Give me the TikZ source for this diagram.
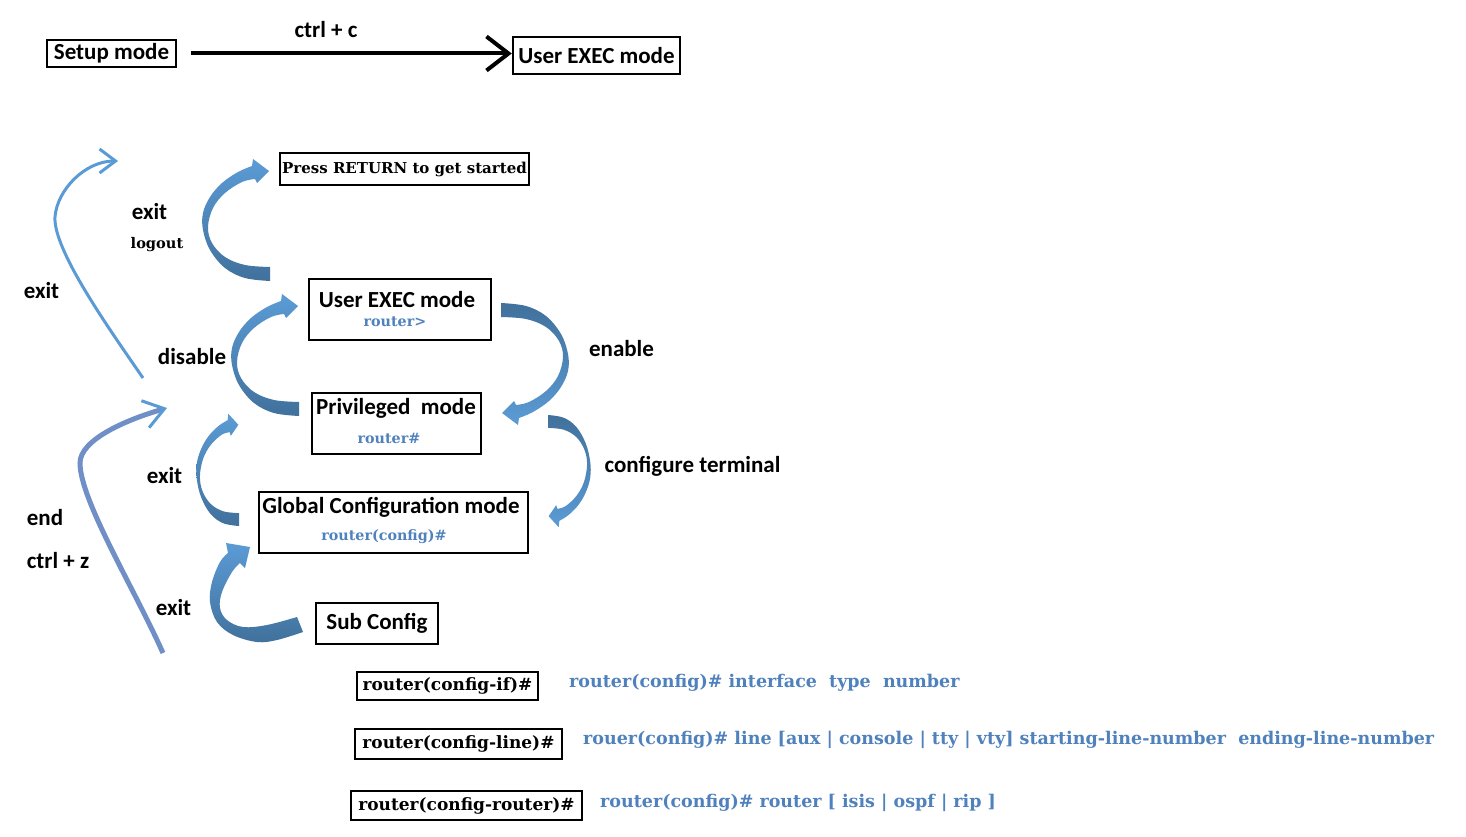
\documentclass[tikz,border=0pt]{standalone}
\usepackage{fontspec}
\setmainfont{Carlito}
\newfontfamily\srf{DejaVu Serif}
\usetikzlibrary{arrows.meta}
\definecolor{txtblue}{HTML}{4F81BD}
\definecolor{alight}{HTML}{5B9BD5}
\definecolor{adark}{HTML}{41719C}
\definecolor{lineA}{HTML}{5B9BD5}
\definecolor{lineB}{HTML}{6F8FC6}
\tikzset{
  ashade/.style={top color=alight, bottom color=adark},
  ashadeflip/.style={top color=adark, bottom color=alight},
  carrow/.pic={
    \shade[ashade]
      plot[smooth, tension=0.6] coordinates {(0,0) (-25,3) (-45,13) (-60,31) (-67,51) (-67,68) (-60,84) (-48,98) (-32,109) (-18,115)}
      -- (-17,122) -- (-1,110) -- (-13,98) -- (-15,102)
      -- plot[smooth, tension=0.6] coordinates {(-15,102) (-28,99) (-45,88) (-57,73) (-62,54) (-58,38) (-45,24) (-25,16) (0,14)}
      -- cycle;
  }
}
\begin{document}
\begin{tikzpicture}[x=1pt,y=1pt,
  modebox/.style={draw=black,line width=2.5pt,inner sep=0pt},
  lbl/.style={font=\bfseries\fontsize{23}{27}\selectfont,inner sep=0pt},
  srfb/.style={font=\srf\bfseries\fontsize{#1}{#1}\selectfont,inner sep=0pt}]
\fill[white] (0,0) rectangle (1466,-837);
\useasboundingbox (0,0) rectangle (1466,-837);

% top row
\node[modebox,lbl,minimum width=129pt,minimum height=27pt] (setup) at (111.5,-53.5) {Setup mode};
\node[modebox,lbl,minimum width=167pt,minimum height=37pt] (ue1) at (596.5,-55.5) {User EXEC mode};
\node[lbl] (cc) at (326,-30) {ctrl + c};
\draw[line width=4pt,-{Straight Barb[length=22pt,width=34pt]},shorten <=14pt] (setup.east) -- (setup.east -| ue1.west);

% boxes
\node[modebox,srfb=15,minimum width=249pt,minimum height=32pt] (press) at (404.5,-169) {Press RETURN to get started};

\node[modebox,minimum width=182pt,minimum height=61pt] (ue2) at (400,-309.5) {};
\node[lbl] (ue2t) at (397,-300) {User EXEC mode};
\node[srfb=14.3,text=txtblue] (ue2p) at (395,-322) {router>};

\node[modebox,minimum width=169pt,minimum height=61pt] (priv) at (396.5,-423.5) {};
\node[lbl] (privt) at (396,-408) {Privileged\ \ mode};
\node[srfb=14.3,text=txtblue] (privp) at (389,-438) {router\#};

\node[modebox,minimum width=269pt,minimum height=61pt] (glob) at (393.5,-522.5) {};
\node[lbl] (globt) at (391,-507) {Global Configuration mode};
\node[srfb=14.3,text=txtblue] (globp) at (384,-537) {router(config)\#};

\node[modebox,lbl,minimum width=122pt,minimum height=41pt] (sub) at (377,-623.5) {Sub Config};

\node[modebox,srfb=17,minimum width=181pt,minimum height=28pt] (cif) at (447.5,-686) {router(config-if)\#};
\node[modebox,srfb=17,minimum width=207pt,minimum height=30pt] (cline) at (458.5,-744) {router(config-line)\#};
\node[modebox,srfb=17,minimum width=231pt,minimum height=29pt] (crouter) at (466.5,-805.5) {router(config-router)\#};

\node[srfb=17.5,text=txtblue,anchor=west] (cmdif) at (569,-683) {router(config)\# interface\ \ type\ \ number};
\node[srfb=17.5,text=txtblue,anchor=west] (cmdline) at (583,-740) {rouer(config)\# line [aux | console | tty | vty] starting-line-number\ \ ending-line-number};
\node[srfb=17.5,text=txtblue,anchor=west] (cmdrouter) at (600,-803) {router(config)\# router [ isis | ospf | rip ]};

% labels
\node[lbl] (lexit1) at (149.5,-212) {exit};
\node[srfb=14.6] (llogout) at (157,-245) {logout};
\node[lbl] (lexit2) at (41.5,-291) {exit};
\node[lbl] (ldisable) at (192,-357) {disable};
\node[lbl] (lenable) at (621.5,-349) {enable};
\node[lbl] (lexit3) at (164.5,-476) {exit};
\node[lbl] (lconf) at (692.5,-466) {configure terminal};
\node[lbl] (lend) at (45,-518) {end};
\node[lbl] (lctrlz) at (58,-561) {ctrl + z};
\node[lbl] (lexit4) at (173.5,-608) {exit};

% curved block arrows
\pic at (270,-281) {carrow};
\pic at (299,-416) {carrow};
\pic[rotate=180,ashade/.style={ashadeflip}] at (501,-303) {carrow};
\pic[rotate=180,xscale=0.63,yscale=0.92,ashade/.style={ashadeflip}] at (548,-415) {carrow};
\pic[xscale=0.63,yscale=0.92] at (239,-526) {carrow};
\shade[ashade]
  plot[smooth, tension=0.6] coordinates {(303,-632) (277,-640) (257,-642) (233,-635) (217,-622) (210,-602) (212,-582) (220,-562) (228,-553)}
  -- (226,-543) -- (250,-547) -- (245,-568) -- (240,-563)
  -- plot[smooth, tension=0.6] coordinates {(240,-563) (232,-572) (222,-592) (220,-608) (227,-620) (243,-627) (267,-625) (297,-617)}
  -- cycle;

% thin left arrows
\coordinate (a0) at (143,-378);
\coordinate (a1) at (55,-217);
\coordinate (a2) at (118,-161);
\draw[lineA,line width=3pt,-{Straight Barb[length=16pt,width=24pt]}] (a0) .. controls (110,-330) and (53,-250) .. (a1) .. controls (57,-190) and (85,-161) .. (a2);
\coordinate (b0) at (163,-653);
\coordinate (b1) at (80,-463);
\coordinate (b2) at (167,-408);
\draw[lineB,line width=5pt,-{Straight Barb[length=20pt,width=28pt,line width=3pt,color=lineA]}] (b0) .. controls (135,-590) and (80,-500) .. (b1) .. controls (80,-440) and (125,-420) .. (b2);
\end{tikzpicture}
\end{document}
